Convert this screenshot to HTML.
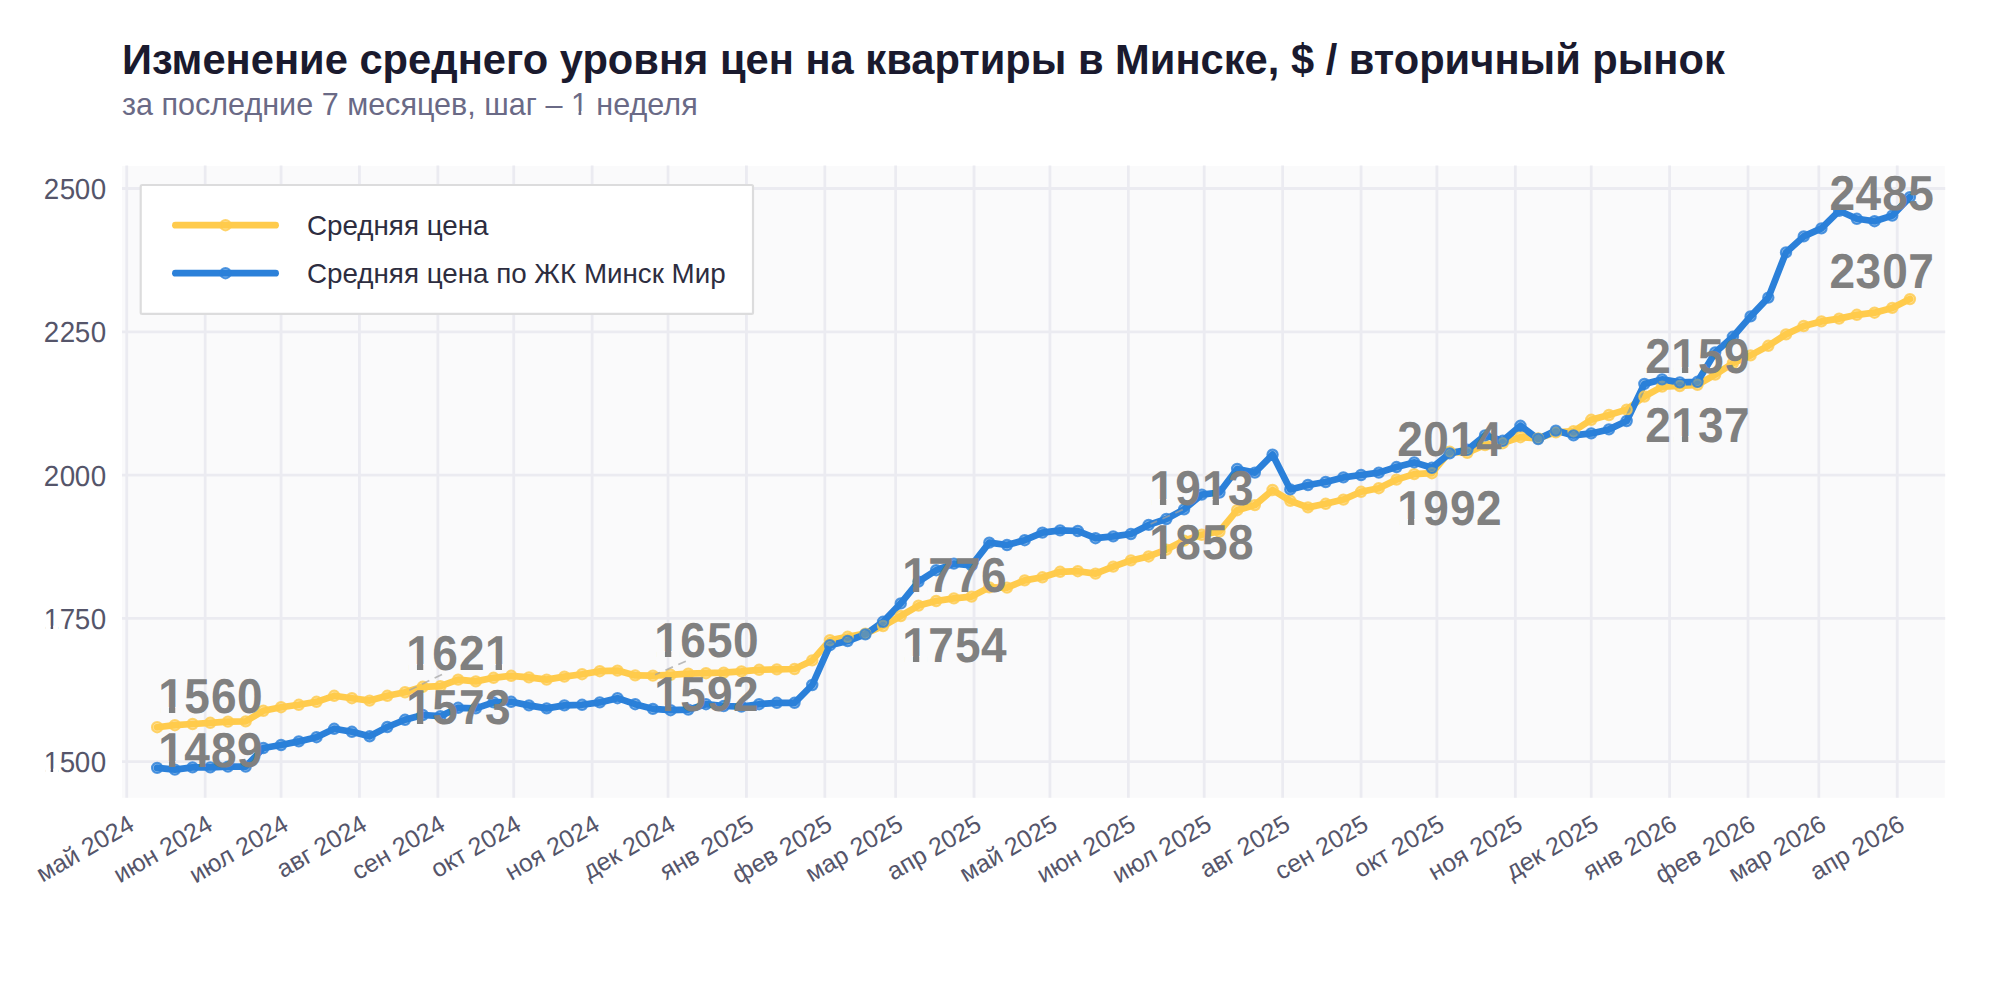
<!DOCTYPE html>
<html lang="ru"><head><meta charset="utf-8"><title>Изменение среднего уровня цен на квартиры в Минске</title>
<style>
html,body{margin:0;padding:0;background:#fff;}
body{width:2000px;height:1000px;overflow:hidden;}
svg{display:block;}
text{font-family:"Liberation Sans", sans-serif;}
.lb,.yt{text-rendering:geometricPrecision;}
.t{font-weight:700;fill:#1a1a2e;font-size:41.67px;}
.s{fill:#6a6a86;font-size:30.56px;}
.yt{fill:#55556a;font-size:27.78px;}
.xt{fill:#55556a;font-size:25.0px;text-anchor:end;}
.lb{fill:#808080;font-weight:700;font-size:47.22px;letter-spacing:0px;}
.lg{fill:#2d2d40;font-size:27.78px;}
.g{stroke:#ebebf1;stroke-width:2.78;fill:none;}
.ly{stroke:#ffcb4c;stroke-width:6.7;fill:none;stroke-linecap:round;stroke-linejoin:round;}
.lbl{stroke:#2b80d9;stroke-width:6.7;fill:none;stroke-linecap:round;stroke-linejoin:round;}
.my{fill:#ffcb4c;fill-opacity:0.57;stroke:#ffcb4c;stroke-opacity:0.8;stroke-width:2.0;}
.mb{fill:#2b80d9;fill-opacity:0.57;stroke:#2b80d9;stroke-opacity:0.8;stroke-width:2.0;}
.ar{stroke:#a2a2a2;stroke-width:1.7;stroke-dasharray:8.2 5.9;fill:none;opacity:.72;}
</style></head><body>
<svg width="2000" height="1000" viewBox="0 0 2000 1000">
<rect width="2000" height="1000" fill="#fff"/>
<defs><clipPath id="c0"><rect x="-8.00" y="-30.56" width="78.00" height="27.48"/><rect x="-8.00" y="-3.08" width="9.57" height="13.89"/><rect x="6.99" y="-3.08" width="2.46" height="13.89"/><rect x="14.64" y="-3.08" width="55.36" height="13.89"/></clipPath><clipPath id="c1"><rect x="-8.00" y="-51.94" width="122.00" height="46.12"/><rect x="-8.00" y="-5.82" width="10.05" height="23.61"/><rect x="11.02" y="-5.82" width="6.48" height="23.61"/><rect x="25.87" y="-5.82" width="88.13" height="23.61"/></clipPath><clipPath id="c2"><rect x="-8.00" y="-51.94" width="122.00" height="46.12"/><rect x="-8.00" y="-5.82" width="10.05" height="23.61"/><rect x="11.02" y="-5.82" width="6.48" height="23.61"/><rect x="25.87" y="-5.82" width="56.90" height="23.61"/><rect x="91.74" y="-5.82" width="6.48" height="23.61"/><rect x="106.59" y="-5.82" width="7.41" height="23.61"/></clipPath><clipPath id="c3"><rect x="-8.00" y="-51.94" width="122.00" height="46.12"/><rect x="-8.00" y="-5.82" width="10.05" height="23.61"/><rect x="11.02" y="-5.82" width="6.48" height="23.61"/><rect x="25.87" y="-5.82" width="30.23" height="23.61"/><rect x="65.07" y="-5.82" width="6.48" height="23.61"/><rect x="79.92" y="-5.82" width="34.08" height="23.61"/></clipPath><clipPath id="c4"><rect x="-8.00" y="-51.94" width="122.00" height="46.12"/><rect x="-8.00" y="-5.82" width="64.10" height="23.61"/><rect x="65.07" y="-5.82" width="6.48" height="23.61"/><rect x="79.92" y="-5.82" width="34.08" height="23.61"/></clipPath><clipPath id="c5"><rect x="-8.00" y="-51.94" width="122.00" height="46.12"/><rect x="-8.00" y="-5.82" width="36.72" height="23.61"/><rect x="37.69" y="-5.82" width="6.48" height="23.61"/><rect x="52.54" y="-5.82" width="61.46" height="23.61"/></clipPath><clipPath id="c6"><rect x="-8.00" y="-33.62" width="616.00" height="29.73"/><rect x="-8.00" y="-3.88" width="458.61" height="15.28"/><rect x="456.56" y="-3.88" width="2.70" height="15.28"/><rect x="464.98" y="-3.88" width="143.02" height="15.28"/></clipPath></defs>
<text class="t" x="122" y="74.0">Изменение среднего уровня цен на квартиры в Минске, $ / вторичный рынок</text>
<text class="s" transform="translate(122,115)" clip-path="url(#c6)">за последние 7 месяцев, шаг – 1 неделя</text>
<rect x="122.0" y="166.1" width="1822.8" height="631.7" fill="#fafafb"/>

<g class="g">
<line x1="126.75" y1="165.6" x2="126.75" y2="797.8"/>
<line x1="205.16" y1="165.6" x2="205.16" y2="797.8"/>
<line x1="281.04" y1="165.6" x2="281.04" y2="797.8"/>
<line x1="359.44" y1="165.6" x2="359.44" y2="797.8"/>
<line x1="437.85" y1="165.6" x2="437.85" y2="797.8"/>
<line x1="513.73" y1="165.6" x2="513.73" y2="797.8"/>
<line x1="592.14" y1="165.6" x2="592.14" y2="797.8"/>
<line x1="668.02" y1="165.6" x2="668.02" y2="797.8"/>
<line x1="746.43" y1="165.6" x2="746.43" y2="797.8"/>
<line x1="824.83" y1="165.6" x2="824.83" y2="797.8"/>
<line x1="895.65" y1="165.6" x2="895.65" y2="797.8"/>
<line x1="974.06" y1="165.6" x2="974.06" y2="797.8"/>
<line x1="1049.94" y1="165.6" x2="1049.94" y2="797.8"/>
<line x1="1128.35" y1="165.6" x2="1128.35" y2="797.8"/>
<line x1="1204.23" y1="165.6" x2="1204.23" y2="797.8"/>
<line x1="1282.63" y1="165.6" x2="1282.63" y2="797.8"/>
<line x1="1361.04" y1="165.6" x2="1361.04" y2="797.8"/>
<line x1="1436.92" y1="165.6" x2="1436.92" y2="797.8"/>
<line x1="1515.33" y1="165.6" x2="1515.33" y2="797.8"/>
<line x1="1591.21" y1="165.6" x2="1591.21" y2="797.8"/>
<line x1="1669.61" y1="165.6" x2="1669.61" y2="797.8"/>
<line x1="1748.02" y1="165.6" x2="1748.02" y2="797.8"/>
<line x1="1818.84" y1="165.6" x2="1818.84" y2="797.8"/>
<line x1="1897.25" y1="165.6" x2="1897.25" y2="797.8"/>
<line x1="122.0" y1="761.60" x2="1945.2" y2="761.60"/>
<line x1="122.0" y1="618.33" x2="1945.2" y2="618.33"/>
<line x1="122.0" y1="475.05" x2="1945.2" y2="475.05"/>
<line x1="122.0" y1="331.77" x2="1945.2" y2="331.77"/>
<line x1="122.0" y1="188.50" x2="1945.2" y2="188.50"/>
</g>
<g>
<text class="yt" transform="translate(43.70,772) scale(1,1.045)" x="0 16 31 47" clip-path="url(#c0)">1500</text>
<text class="yt" transform="translate(43.70,629) scale(1,1.045)" x="0 16 31 47" clip-path="url(#c0)">1750</text>
<text class="yt" transform="translate(43.70,485.5) scale(1,1.045)" x="0 16 31 47">2000</text>
<text class="yt" transform="translate(43.70,342) scale(1,1.045)" x="0 16 31 47">2250</text>
<text class="yt" transform="translate(43.70,199) scale(1,1.045)" x="0 16 31 47">2500</text>
<text class="xt" transform="translate(135.80,829.00) rotate(-30)">май 2024</text>
<text class="xt" transform="translate(214.21,829.00) rotate(-30)">июн 2024</text>
<text class="xt" transform="translate(290.09,829.00) rotate(-30)">июл 2024</text>
<text class="xt" transform="translate(368.49,829.00) rotate(-30)">авг 2024</text>
<text class="xt" transform="translate(446.90,829.00) rotate(-30)">сен 2024</text>
<text class="xt" transform="translate(522.78,829.00) rotate(-30)">окт 2024</text>
<text class="xt" transform="translate(601.19,829.00) rotate(-30)">ноя 2024</text>
<text class="xt" transform="translate(677.07,829.00) rotate(-30)">дек 2024</text>
<text class="xt" transform="translate(755.48,829.00) rotate(-30)">янв 2025</text>
<text class="xt" transform="translate(833.88,829.00) rotate(-30)">фев 2025</text>
<text class="xt" transform="translate(904.70,829.00) rotate(-30)">мар 2025</text>
<text class="xt" transform="translate(983.11,829.00) rotate(-30)">апр 2025</text>
<text class="xt" transform="translate(1058.99,829.00) rotate(-30)">май 2025</text>
<text class="xt" transform="translate(1137.40,829.00) rotate(-30)">июн 2025</text>
<text class="xt" transform="translate(1213.28,829.00) rotate(-30)">июл 2025</text>
<text class="xt" transform="translate(1291.68,829.00) rotate(-30)">авг 2025</text>
<text class="xt" transform="translate(1370.09,829.00) rotate(-30)">сен 2025</text>
<text class="xt" transform="translate(1445.97,829.00) rotate(-30)">окт 2025</text>
<text class="xt" transform="translate(1524.38,829.00) rotate(-30)">ноя 2025</text>
<text class="xt" transform="translate(1600.26,829.00) rotate(-30)">дек 2025</text>
<text class="xt" transform="translate(1678.66,829.00) rotate(-30)">янв 2026</text>
<text class="xt" transform="translate(1757.07,829.00) rotate(-30)">фев 2026</text>
<text class="xt" transform="translate(1827.89,829.00) rotate(-30)">мар 2026</text>
<text class="xt" transform="translate(1906.30,829.00) rotate(-30)">апр 2026</text>
</g>
<path class="ly" d="M157.15,727.21 L174.86,725.20 L192.56,724.00 L210.27,722.80 L227.97,721.60 L245.68,721.40 L263.38,710.80 L281.09,707.20 L298.79,704.80 L316.50,701.80 L334.20,695.80 L351.91,698.20 L369.61,700.60 L387.32,695.80 L405.02,692.25 L422.73,686.80 L440.43,686.20 L458.14,679.60 L475.84,681.40 L493.55,677.80 L511.25,675.80 L528.96,677.40 L546.66,679.60 L564.37,676.60 L582.07,674.20 L599.78,671.20 L617.48,670.60 L635.19,675.40 L652.89,675.63 L670.60,674.80 L688.30,673.60 L706.01,673.20 L723.71,672.60 L741.42,671.40 L759.12,669.80 L776.83,669.40 L794.53,669.00 L812.24,660.40 L829.94,640.20 L847.65,636.80 L865.35,633.60 L883.06,626.00 L900.76,616.03 L918.47,605.60 L936.17,601.00 L953.88,598.40 L971.58,596.60 L989.29,587.40 L1006.99,587.60 L1024.70,580.40 L1042.40,577.30 L1060.11,571.80 L1077.81,571.20 L1095.52,573.60 L1113.22,566.60 L1130.93,560.40 L1148.63,556.43 L1166.34,549.60 L1184.04,540.60 L1201.75,534.80 L1219.45,531.50 L1237.16,510.20 L1254.86,505.10 L1272.57,490.00 L1290.27,500.80 L1307.98,507.40 L1325.68,503.80 L1343.39,499.60 L1361.09,491.80 L1378.80,488.20 L1396.50,479.63 L1414.21,474.10 L1431.91,473.20 L1449.62,451.60 L1467.32,452.80 L1485.03,445.00 L1502.73,443.20 L1520.44,437.20 L1538.14,438.40 L1555.85,432.40 L1573.55,431.20 L1591.26,419.80 L1608.96,415.00 L1626.67,409.60 L1644.37,396.54 L1662.08,386.60 L1679.78,386.00 L1697.49,384.80 L1715.19,374.60 L1732.90,363.20 L1750.60,355.40 L1768.31,345.80 L1786.01,334.40 L1803.72,326.00 L1821.42,321.40 L1839.13,318.60 L1856.83,314.80 L1874.54,312.70 L1892.24,307.90 L1909.95,299.11"/>
<path class="lbl" d="M157.15,767.90 L174.86,769.60 L192.56,767.40 L210.27,767.40 L227.97,766.60 L245.68,766.60 L263.38,748.00 L281.09,745.00 L298.79,741.40 L316.50,737.20 L334.20,728.80 L351.91,731.80 L369.61,736.30 L387.32,727.00 L405.02,719.76 L422.73,715.00 L440.43,716.20 L458.14,707.80 L475.84,708.40 L493.55,702.40 L511.25,701.80 L528.96,705.40 L546.66,708.40 L564.37,705.40 L582.07,704.80 L599.78,702.40 L617.48,698.20 L635.19,704.20 L652.89,708.87 L670.60,710.20 L688.30,709.60 L706.01,704.20 L723.71,706.00 L741.42,706.60 L759.12,704.20 L776.83,702.80 L794.53,702.80 L812.24,685.00 L829.94,645.20 L847.65,641.00 L865.35,634.40 L883.06,621.80 L900.76,603.42 L918.47,581.60 L936.17,570.20 L953.88,563.60 L971.58,565.40 L989.29,542.60 L1006.99,545.00 L1024.70,540.20 L1042.40,532.60 L1060.11,530.40 L1077.81,531.00 L1095.52,538.20 L1113.22,536.40 L1130.93,534.00 L1148.63,524.91 L1166.34,519.00 L1184.04,509.40 L1201.75,494.60 L1219.45,492.50 L1237.16,469.00 L1254.86,472.60 L1272.57,454.60 L1290.27,489.40 L1307.98,485.00 L1325.68,482.00 L1343.39,477.40 L1361.09,475.00 L1378.80,472.60 L1396.50,467.03 L1414.21,462.40 L1431.91,467.80 L1449.62,453.40 L1467.32,449.80 L1485.03,435.40 L1502.73,440.80 L1520.44,425.80 L1538.14,439.00 L1555.85,430.60 L1573.55,435.40 L1591.26,433.40 L1608.96,429.40 L1626.67,421.00 L1644.37,383.93 L1662.08,379.40 L1679.78,382.40 L1697.49,381.80 L1715.19,352.40 L1732.90,336.80 L1750.60,316.40 L1768.31,297.60 L1786.01,252.40 L1803.72,236.40 L1821.42,228.40 L1839.13,210.80 L1856.83,218.80 L1874.54,221.20 L1892.24,215.60 L1909.95,197.10"/>
<g class="my"><circle cx="157.15" cy="727.21" r="5.2"/><circle cx="174.86" cy="725.20" r="5.2"/><circle cx="192.56" cy="724.00" r="5.2"/><circle cx="210.27" cy="722.80" r="5.2"/><circle cx="227.97" cy="721.60" r="5.2"/><circle cx="245.68" cy="721.40" r="5.2"/><circle cx="263.38" cy="710.80" r="5.2"/><circle cx="281.09" cy="707.20" r="5.2"/><circle cx="298.79" cy="704.80" r="5.2"/><circle cx="316.50" cy="701.80" r="5.2"/><circle cx="334.20" cy="695.80" r="5.2"/><circle cx="351.91" cy="698.20" r="5.2"/><circle cx="369.61" cy="700.60" r="5.2"/><circle cx="387.32" cy="695.80" r="5.2"/><circle cx="405.02" cy="692.25" r="5.2"/><circle cx="422.73" cy="686.80" r="5.2"/><circle cx="440.43" cy="686.20" r="5.2"/><circle cx="458.14" cy="679.60" r="5.2"/><circle cx="475.84" cy="681.40" r="5.2"/><circle cx="493.55" cy="677.80" r="5.2"/><circle cx="511.25" cy="675.80" r="5.2"/><circle cx="528.96" cy="677.40" r="5.2"/><circle cx="546.66" cy="679.60" r="5.2"/><circle cx="564.37" cy="676.60" r="5.2"/><circle cx="582.07" cy="674.20" r="5.2"/><circle cx="599.78" cy="671.20" r="5.2"/><circle cx="617.48" cy="670.60" r="5.2"/><circle cx="635.19" cy="675.40" r="5.2"/><circle cx="652.89" cy="675.63" r="5.2"/><circle cx="670.60" cy="674.80" r="5.2"/><circle cx="688.30" cy="673.60" r="5.2"/><circle cx="706.01" cy="673.20" r="5.2"/><circle cx="723.71" cy="672.60" r="5.2"/><circle cx="741.42" cy="671.40" r="5.2"/><circle cx="759.12" cy="669.80" r="5.2"/><circle cx="776.83" cy="669.40" r="5.2"/><circle cx="794.53" cy="669.00" r="5.2"/><circle cx="812.24" cy="660.40" r="5.2"/><circle cx="829.94" cy="640.20" r="5.2"/><circle cx="847.65" cy="636.80" r="5.2"/><circle cx="865.35" cy="633.60" r="5.2"/><circle cx="883.06" cy="626.00" r="5.2"/><circle cx="900.76" cy="616.03" r="5.2"/><circle cx="918.47" cy="605.60" r="5.2"/><circle cx="936.17" cy="601.00" r="5.2"/><circle cx="953.88" cy="598.40" r="5.2"/><circle cx="971.58" cy="596.60" r="5.2"/><circle cx="989.29" cy="587.40" r="5.2"/><circle cx="1006.99" cy="587.60" r="5.2"/><circle cx="1024.70" cy="580.40" r="5.2"/><circle cx="1042.40" cy="577.30" r="5.2"/><circle cx="1060.11" cy="571.80" r="5.2"/><circle cx="1077.81" cy="571.20" r="5.2"/><circle cx="1095.52" cy="573.60" r="5.2"/><circle cx="1113.22" cy="566.60" r="5.2"/><circle cx="1130.93" cy="560.40" r="5.2"/><circle cx="1148.63" cy="556.43" r="5.2"/><circle cx="1166.34" cy="549.60" r="5.2"/><circle cx="1184.04" cy="540.60" r="5.2"/><circle cx="1201.75" cy="534.80" r="5.2"/><circle cx="1219.45" cy="531.50" r="5.2"/><circle cx="1237.16" cy="510.20" r="5.2"/><circle cx="1254.86" cy="505.10" r="5.2"/><circle cx="1272.57" cy="490.00" r="5.2"/><circle cx="1290.27" cy="500.80" r="5.2"/><circle cx="1307.98" cy="507.40" r="5.2"/><circle cx="1325.68" cy="503.80" r="5.2"/><circle cx="1343.39" cy="499.60" r="5.2"/><circle cx="1361.09" cy="491.80" r="5.2"/><circle cx="1378.80" cy="488.20" r="5.2"/><circle cx="1396.50" cy="479.63" r="5.2"/><circle cx="1414.21" cy="474.10" r="5.2"/><circle cx="1431.91" cy="473.20" r="5.2"/><circle cx="1449.62" cy="451.60" r="5.2"/><circle cx="1467.32" cy="452.80" r="5.2"/><circle cx="1485.03" cy="445.00" r="5.2"/><circle cx="1502.73" cy="443.20" r="5.2"/><circle cx="1520.44" cy="437.20" r="5.2"/><circle cx="1538.14" cy="438.40" r="5.2"/><circle cx="1555.85" cy="432.40" r="5.2"/><circle cx="1573.55" cy="431.20" r="5.2"/><circle cx="1591.26" cy="419.80" r="5.2"/><circle cx="1608.96" cy="415.00" r="5.2"/><circle cx="1626.67" cy="409.60" r="5.2"/><circle cx="1644.37" cy="396.54" r="5.2"/><circle cx="1662.08" cy="386.60" r="5.2"/><circle cx="1679.78" cy="386.00" r="5.2"/><circle cx="1697.49" cy="384.80" r="5.2"/><circle cx="1715.19" cy="374.60" r="5.2"/><circle cx="1732.90" cy="363.20" r="5.2"/><circle cx="1750.60" cy="355.40" r="5.2"/><circle cx="1768.31" cy="345.80" r="5.2"/><circle cx="1786.01" cy="334.40" r="5.2"/><circle cx="1803.72" cy="326.00" r="5.2"/><circle cx="1821.42" cy="321.40" r="5.2"/><circle cx="1839.13" cy="318.60" r="5.2"/><circle cx="1856.83" cy="314.80" r="5.2"/><circle cx="1874.54" cy="312.70" r="5.2"/><circle cx="1892.24" cy="307.90" r="5.2"/><circle cx="1909.95" cy="299.11" r="5.2"/></g>
<g class="mb"><circle cx="157.15" cy="767.90" r="5.2"/><circle cx="174.86" cy="769.60" r="5.2"/><circle cx="192.56" cy="767.40" r="5.2"/><circle cx="210.27" cy="767.40" r="5.2"/><circle cx="227.97" cy="766.60" r="5.2"/><circle cx="245.68" cy="766.60" r="5.2"/><circle cx="263.38" cy="748.00" r="5.2"/><circle cx="281.09" cy="745.00" r="5.2"/><circle cx="298.79" cy="741.40" r="5.2"/><circle cx="316.50" cy="737.20" r="5.2"/><circle cx="334.20" cy="728.80" r="5.2"/><circle cx="351.91" cy="731.80" r="5.2"/><circle cx="369.61" cy="736.30" r="5.2"/><circle cx="387.32" cy="727.00" r="5.2"/><circle cx="405.02" cy="719.76" r="5.2"/><circle cx="422.73" cy="715.00" r="5.2"/><circle cx="440.43" cy="716.20" r="5.2"/><circle cx="458.14" cy="707.80" r="5.2"/><circle cx="475.84" cy="708.40" r="5.2"/><circle cx="493.55" cy="702.40" r="5.2"/><circle cx="511.25" cy="701.80" r="5.2"/><circle cx="528.96" cy="705.40" r="5.2"/><circle cx="546.66" cy="708.40" r="5.2"/><circle cx="564.37" cy="705.40" r="5.2"/><circle cx="582.07" cy="704.80" r="5.2"/><circle cx="599.78" cy="702.40" r="5.2"/><circle cx="617.48" cy="698.20" r="5.2"/><circle cx="635.19" cy="704.20" r="5.2"/><circle cx="652.89" cy="708.87" r="5.2"/><circle cx="670.60" cy="710.20" r="5.2"/><circle cx="688.30" cy="709.60" r="5.2"/><circle cx="706.01" cy="704.20" r="5.2"/><circle cx="723.71" cy="706.00" r="5.2"/><circle cx="741.42" cy="706.60" r="5.2"/><circle cx="759.12" cy="704.20" r="5.2"/><circle cx="776.83" cy="702.80" r="5.2"/><circle cx="794.53" cy="702.80" r="5.2"/><circle cx="812.24" cy="685.00" r="5.2"/><circle cx="829.94" cy="645.20" r="5.2"/><circle cx="847.65" cy="641.00" r="5.2"/><circle cx="865.35" cy="634.40" r="5.2"/><circle cx="883.06" cy="621.80" r="5.2"/><circle cx="900.76" cy="603.42" r="5.2"/><circle cx="918.47" cy="581.60" r="5.2"/><circle cx="936.17" cy="570.20" r="5.2"/><circle cx="953.88" cy="563.60" r="5.2"/><circle cx="971.58" cy="565.40" r="5.2"/><circle cx="989.29" cy="542.60" r="5.2"/><circle cx="1006.99" cy="545.00" r="5.2"/><circle cx="1024.70" cy="540.20" r="5.2"/><circle cx="1042.40" cy="532.60" r="5.2"/><circle cx="1060.11" cy="530.40" r="5.2"/><circle cx="1077.81" cy="531.00" r="5.2"/><circle cx="1095.52" cy="538.20" r="5.2"/><circle cx="1113.22" cy="536.40" r="5.2"/><circle cx="1130.93" cy="534.00" r="5.2"/><circle cx="1148.63" cy="524.91" r="5.2"/><circle cx="1166.34" cy="519.00" r="5.2"/><circle cx="1184.04" cy="509.40" r="5.2"/><circle cx="1201.75" cy="494.60" r="5.2"/><circle cx="1219.45" cy="492.50" r="5.2"/><circle cx="1237.16" cy="469.00" r="5.2"/><circle cx="1254.86" cy="472.60" r="5.2"/><circle cx="1272.57" cy="454.60" r="5.2"/><circle cx="1290.27" cy="489.40" r="5.2"/><circle cx="1307.98" cy="485.00" r="5.2"/><circle cx="1325.68" cy="482.00" r="5.2"/><circle cx="1343.39" cy="477.40" r="5.2"/><circle cx="1361.09" cy="475.00" r="5.2"/><circle cx="1378.80" cy="472.60" r="5.2"/><circle cx="1396.50" cy="467.03" r="5.2"/><circle cx="1414.21" cy="462.40" r="5.2"/><circle cx="1431.91" cy="467.80" r="5.2"/><circle cx="1449.62" cy="453.40" r="5.2"/><circle cx="1467.32" cy="449.80" r="5.2"/><circle cx="1485.03" cy="435.40" r="5.2"/><circle cx="1502.73" cy="440.80" r="5.2"/><circle cx="1520.44" cy="425.80" r="5.2"/><circle cx="1538.14" cy="439.00" r="5.2"/><circle cx="1555.85" cy="430.60" r="5.2"/><circle cx="1573.55" cy="435.40" r="5.2"/><circle cx="1591.26" cy="433.40" r="5.2"/><circle cx="1608.96" cy="429.40" r="5.2"/><circle cx="1626.67" cy="421.00" r="5.2"/><circle cx="1644.37" cy="383.93" r="5.2"/><circle cx="1662.08" cy="379.40" r="5.2"/><circle cx="1679.78" cy="382.40" r="5.2"/><circle cx="1697.49" cy="381.80" r="5.2"/><circle cx="1715.19" cy="352.40" r="5.2"/><circle cx="1732.90" cy="336.80" r="5.2"/><circle cx="1750.60" cy="316.40" r="5.2"/><circle cx="1768.31" cy="297.60" r="5.2"/><circle cx="1786.01" cy="252.40" r="5.2"/><circle cx="1803.72" cy="236.40" r="5.2"/><circle cx="1821.42" cy="228.40" r="5.2"/><circle cx="1839.13" cy="210.80" r="5.2"/><circle cx="1856.83" cy="218.80" r="5.2"/><circle cx="1874.54" cy="221.20" r="5.2"/><circle cx="1892.24" cy="215.60" r="5.2"/><circle cx="1909.95" cy="197.10" r="5.2"/></g>
<path class="ar" d="M442.0,674.4 L409.2,690.4 M685.8,661.2 L655.0,674.8 M1182.8,509.6 L1150.6,524.0"/>
<g class="lb">
<text transform="translate(158.20,713.10) scale(0.975,1.036)" x="0.0 26.67 54.05 80.72" clip-path="url(#c1)">1560</text>
<text transform="translate(158.20,767.10) scale(0.975,1.036)" x="0.0 26.67 54.05 80.72" clip-path="url(#c1)">1489</text>
<text transform="translate(406.20,670.10) scale(0.975,1.036)" x="0.0 26.67 54.05 80.72" clip-path="url(#c2)">1621</text>
<text transform="translate(406.20,724.10) scale(0.975,1.036)" x="0.0 26.67 54.05 80.72" clip-path="url(#c1)">1573</text>
<text transform="translate(654.20,657.10) scale(0.975,1.036)" x="0.0 26.67 54.05 80.72" clip-path="url(#c1)">1650</text>
<text transform="translate(654.20,711.10) scale(0.975,1.036)" x="0.0 26.67 54.05 80.72" clip-path="url(#c1)">1592</text>
<text transform="translate(902.20,592.10) scale(0.975,1.036)" x="0.0 26.67 54.05 80.72" clip-path="url(#c1)">1776</text>
<text transform="translate(902.20,662.10) scale(0.975,1.036)" x="0.0 26.67 54.05 80.72" clip-path="url(#c1)">1754</text>
<text transform="translate(1149.20,505.10) scale(0.975,1.036)" x="0.0 26.67 54.05 80.72" clip-path="url(#c3)">1913</text>
<text transform="translate(1149.20,559.10) scale(0.975,1.036)" x="0.0 26.67 54.05 80.72" clip-path="url(#c1)">1858</text>
<text transform="translate(1397.20,456.10) scale(0.975,1.036)" x="0.0 26.67 54.05 80.72" clip-path="url(#c4)">2014</text>
<text transform="translate(1397.20,525.10) scale(0.975,1.036)" x="0.0 26.67 54.05 80.72" clip-path="url(#c1)">1992</text>
<text transform="translate(1645.20,373.10) scale(0.975,1.036)" x="0.0 26.67 54.05 80.72" clip-path="url(#c5)">2159</text>
<text transform="translate(1645.20,442.10) scale(0.975,1.036)" x="0.0 26.67 54.05 80.72" clip-path="url(#c5)">2137</text>
<text transform="translate(1829.50,210.10) scale(0.975,1.036)" x="0.0 26.67 54.05 80.72">2485</text>
<text transform="translate(1829.50,288.10) scale(0.975,1.036)" x="0.0 26.67 54.05 80.72">2307</text>
</g>
<rect x="140.7" y="185" width="612.3" height="128.9" rx="1.4" fill="#fff" stroke="#dcdcdd" stroke-width="2.2"/>
<path class="ly" d="M175.4,225.2 L275.6,225.2"/><circle class="my" cx="225.5" cy="225.2" r="5.2"/>
<path class="lbl" d="M175.4,273.2 L275.6,273.2"/><circle class="mb" cx="225.5" cy="273.2" r="5.2"/>
<text class="lg" x="307" y="235">Средняя цена</text>
<text class="lg" x="307" y="283">Средняя цена по ЖК Минск Мир</text>

</svg></body></html>
